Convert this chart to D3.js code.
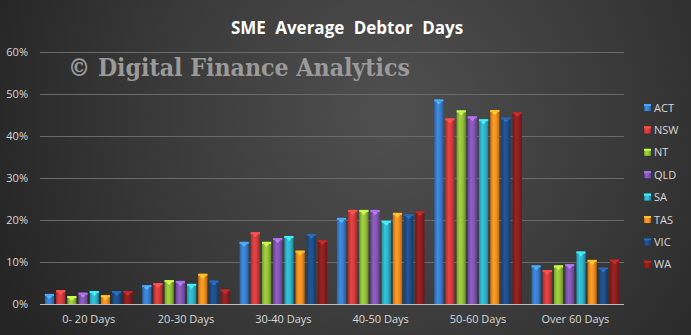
<!DOCTYPE html>
<html><head><meta charset="utf-8">
<script src="https://cdn.jsdelivr.net/npm/d3@7"></script>
<style>html,body{margin:0;padding:0;background:#333;}svg{display:block;}</style>
</head><body>
<svg id="c" width="691" height="335"></svg>
<script>
const categories = ["0- 20 Days","20-30 Days","30-40 Days","40-50 Days","50-60 Days","Over 60 Days"];
const seriesNames = ["ACT","NSW","NT","QLD","SA","TAS","VIC","WA"];
const ACT = [2.4, 4.5, 14.8, 20.5, 48.7, 9.2];
const NSW = [3.3, 5.0, 17.1, 22.4, 44.2, 8.1];
const NT  = [1.9, 5.7, 14.8, 22.4, 46.1, 9.2];
const QLD = [2.7, 5.5, 15.7, 22.4, 44.7, 9.5];
const SA  = [3.1, 4.8, 16.2, 19.8, 44.0, 12.5];
const TAS = [2.1, 7.2, 12.7, 21.7, 46.2, 10.5];
const VIC = [3.1, 5.6, 16.7, 21.4, 44.4, 8.7];
const WA  = [3.1, 3.5, 15.2, 22.1, 45.7, 10.6];
const yTicks = [0,10,20,30,40,50,60];
const seriesValues = [ACT,NSW,NT,QLD,SA,TAS,VIC,WA];
const colors = ["#3a7fd0","#d63c3c","#94c23a","#8357b5","#2fb4cc","#f5901f","#1f4f8a","#8f1f1f"];

const svg = d3.select("#c");
const W = 691, H = 335;
const defs = svg.append("defs");
const bg = defs.append("radialGradient").attr("id","bg").attr("gradientUnits","userSpaceOnUse")
  .attr("cx",390).attr("cy",115).attr("r",430);
bg.append("stop").attr("offset","0%").attr("stop-color","#505050");
bg.append("stop").attr("offset","60%").attr("stop-color","#373737");
bg.append("stop").attr("offset","100%").attr("stop-color","#242424");
svg.append("rect").attr("width",W).attr("height",H).attr("fill","url(#bg)");

colors.forEach((c,i)=>{
  const g = defs.append("linearGradient").attr("id","g"+i).attr("x1","0%").attr("x2","100%").attr("y1","0%").attr("y2","0%");
  const base = d3.color(c);
  g.append("stop").attr("offset","0%").attr("stop-color",base.darker(0.7));
  g.append("stop").attr("offset","35%").attr("stop-color",base.brighter(0.25));
  g.append("stop").attr("offset","65%").attr("stop-color",base);
  g.append("stop").attr("offset","100%").attr("stop-color",base.darker(0.9));
});

const x0 = d3.scaleBand().domain(categories).range([40,624]).paddingInner(0.1).paddingOuter(0.05);
const x1 = d3.scaleBand().domain(seriesNames).range([0,x0.bandwidth()]).paddingInner(0.18);
const y = d3.scaleLinear().domain([0,60]).range([304,52]);

// gridlines
svg.append("g").selectAll("line").data(yTicks.filter(t=>t>0)).join("line")
  .attr("x1",40).attr("x2",624).attr("y1",d=>y(d)).attr("y2",d=>y(d))
  .attr("stroke","#6a6a6a").attr("stroke-width",1).attr("shape-rendering","crispEdges");

// y axis labels
const yAxis = d3.axisLeft(y).tickValues(yTicks).tickSize(0).tickPadding(0).tickFormat(d=>d+"%");
const ya = svg.append("g").attr("transform","translate(28,0)").call(yAxis);
ya.select(".domain").remove();
ya.selectAll("text").attr("fill","#d8d8d8").attr("font-family","'Open Sans', 'Liberation Sans', sans-serif").attr("font-size",11);

// watermark
svg.append("text").attr("x",68).attr("y",76).attr("textLength",342).attr("lengthAdjust","spacingAndGlyphs")
  .attr("font-family","'DejaVu Serif', serif").attr("font-weight","bold").attr("font-size",24)
  .attr("fill","#9a9a9a").text("© Digital Finance Analytics");

// bars
const groups = svg.append("g").selectAll("g").data(categories).join("g")
  .attr("transform",d=>`translate(${x0(d)},0)`);
groups.each(function(cat,ci){
  const g = d3.select(this);
  const data = seriesNames.map((s,si)=>({s,si,v:seriesValues[si][ci]}));
  g.selectAll("rect.bar").data(data).join("rect").attr("class","bar")
    .attr("x",d=>x1(d.s)).attr("width",x1.bandwidth())
    .attr("y",d=>y(d.v)).attr("height",d=>y(0)-y(d.v))
    .attr("fill",d=>`url(#g${d.si})`);
  g.selectAll("rect.cap").data(data).join("rect").attr("class","cap")
    .attr("x",d=>x1(d.s)).attr("width",x1.bandwidth())
    .attr("y",d=>y(d.v)).attr("height",2)
    .attr("fill",d=>d3.color(colors[d.si]).brighter(0.8));
  g.selectAll("path.tri").data(data).join("path").attr("class","tri")
    .attr("d",d=>{const xl=x1(d.s), w=x1.bandwidth(), t=y(d.v)+2;
      return `M${xl+w*0.2},${t}L${xl+w*0.8},${t}L${xl+w/2},${t+3}Z`;})
    .attr("fill",d=>d3.color(colors[d.si]).brighter(1.2)).attr("opacity",0.85);
});

// x axis
const xAxis = d3.axisBottom(x0).tickSize(0).tickPadding(11);
const xa = svg.append("g").attr("transform","translate(0,304)").call(xAxis);
xa.select(".domain").attr("stroke","#bdbdbd").attr("d","M40,0.5H624");
xa.selectAll("text").attr("fill","#d8d8d8").attr("font-family","'Open Sans', 'Liberation Sans', sans-serif").attr("font-size",11);

// title
svg.append("text").attr("x",347).attr("y",34).attr("text-anchor","middle")
  .attr("font-family","'Open Sans', 'Liberation Sans', sans-serif").attr("font-weight","bold").attr("font-size",17)
  .attr("fill","#ffffff").attr("word-spacing",5).text("SME Average Debtor Days");

// legend
const leg = svg.append("g").selectAll("g").data(seriesNames).join("g")
  .attr("transform",(d,i)=>`translate(644,${104+i*22.4})`);
leg.append("rect").attr("width",7).attr("height",7).attr("fill",(d,i)=>`url(#g${i})`);
leg.append("rect").attr("width",7).attr("height",2).attr("fill",(d,i)=>d3.color(colors[i]).brighter(0.8));
leg.append("text").attr("x",10).attr("y",7.5).attr("fill","#d8d8d8")
  .attr("font-family","'Open Sans', 'Liberation Sans', sans-serif").attr("font-size",11).text(d=>d);
</script>
</body></html>
